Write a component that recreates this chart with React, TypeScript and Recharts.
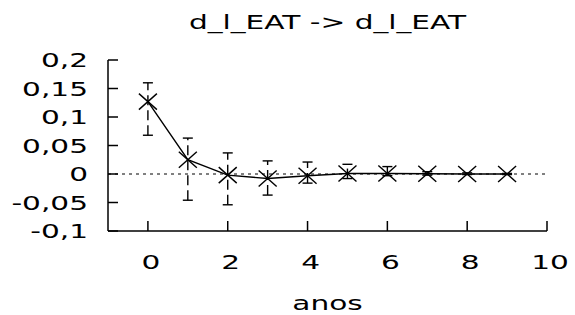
import { ComposedChart, Line, XAxis, YAxis, ReferenceLine, ErrorBar } from "recharts";

const periods = [0, 1, 2, 3, 4, 5, 6, 7, 8, 9];
const response = [0.127, 0.025, -0.002, -0.008, -0.003, 0.001, 0.001, 0.0005, 0, 0];
const lower = [0.068, -0.046, -0.054, -0.037, -0.016, -0.008, -0.003, -0.002, -0.001, -0.001];
const upper = [0.16, 0.063, 0.037, 0.023, 0.021, 0.017, 0.013, 0.004, 0.002, 0.001];

const xTicks = [0, 2, 4, 6, 8, 10];
const yTicks = [-0.1, -0.05, 0, 0.05, 0.1, 0.15, 0.2];

const title = "d_l_EAT -> d_l_EAT";
const xLabel = "anos";

const data = periods.map((p, i) => ({
  p,
  v: response[i],
  err: [response[i] - lower[i], upper[i] - response[i]],
}));

const FONT = "'DejaVu Sans', Verdana, sans-serif";
const FS = 20;
// the reference text is stretched sideways
const SX = 1.48;

const fmt = (v: number) => String(v).replace(".", ",");

function XTick(props: any) {
  const { x, y, payload } = props;
  return (
    <text transform={`translate(${x + 3},${y}) scale(${SX},1)`} textAnchor="middle" dy="0.71em" fontFamily={FONT} fontSize={FS} fill="#000">
      {payload.value}
    </text>
  );
}

function YTick(props: any) {
  const { x, y, payload } = props;
  return (
    <text transform={`translate(${x},${y}) scale(${SX},1)`} textAnchor="end" dy="0.36em" fontFamily={FONT} fontSize={FS} fill="#000">
      {fmt(payload.value)}
    </text>
  );
}

const NoTick = () => <g />;

function Cross(props: any) {
  const { cx, cy } = props;
  if (cx == null || cy == null) return <g />;
  const w = 9, h = 8;
  return (
    <g stroke="#000" strokeWidth={1.4}>
      <line x1={cx - w} y1={cy - h} x2={cx + w} y2={cy + h} />
      <line x1={cx - w} y1={cy + h} x2={cx + w} y2={cy - h} />
    </g>
  );
}

export default function App() {
  return (
    <div style={{ position: "absolute", left: 0, top: 0, width: 575, height: 315, background: "#fff", fontFamily: FONT, overflow: "hidden" }}>
      <div style={{ position: "absolute", left: 0, width: 655, top: 10, textAlign: "center", fontSize: FS, lineHeight: "24px", transform: `scaleX(${SX})`, transformOrigin: "327.5px 0" }}>
        {title}
      </div>
      <div style={{ position: "absolute", left: 0, width: 655, top: 291, textAlign: "center", fontSize: FS, lineHeight: "24px", transform: `scaleX(${SX})`, transformOrigin: "327.5px 0" }}>
        {xLabel}
      </div>
      <ComposedChart width={575} height={315} data={data} margin={{ top: 60, right: 28, bottom: 0, left: 0 }}>
        <XAxis xAxisId="b" dataKey="p" type="number" domain={[-1, 10]} ticks={xTicks} interval={0}
          orientation="bottom" height={84} tickSize={-10} tickMargin={34} tick={XTick}
          stroke="#000" strokeWidth={1.5} />
        <XAxis xAxisId="t" dataKey="p" type="number" domain={[-1, 10]} ticks={xTicks} interval={0}
          orientation="top" height={0} tickSize={-10} tick={NoTick} stroke="#000" strokeWidth={1.5} />
        <YAxis yAxisId="l" type="number" domain={[-0.1, 0.2]} ticks={yTicks} interval={0}
          orientation="left" width={108} tickSize={-10} tickMargin={30} tick={YTick}
          stroke="#000" strokeWidth={1.5} />
        <YAxis yAxisId="r" type="number" domain={[-0.1, 0.2]} ticks={yTicks} interval={0}
          orientation="right" width={0} tickSize={-10} tick={NoTick} stroke="#000" strokeWidth={1.5} />
        <ReferenceLine xAxisId="b" yAxisId="l" y={0} stroke="#000" strokeWidth={1} strokeDasharray="3 4" />
        <Line xAxisId="b" yAxisId="l" dataKey="v" stroke="#000" strokeWidth={1.4} dot={<Cross />}
          activeDot={false} isAnimationActive={false}>
          <ErrorBar dataKey="err" direction="y" width={5} stroke="#000" strokeWidth={1.4}
            strokeDasharray="10 5" isAnimationActive={false} />
        </Line>
      </ComposedChart>
    </div>
  );
}
